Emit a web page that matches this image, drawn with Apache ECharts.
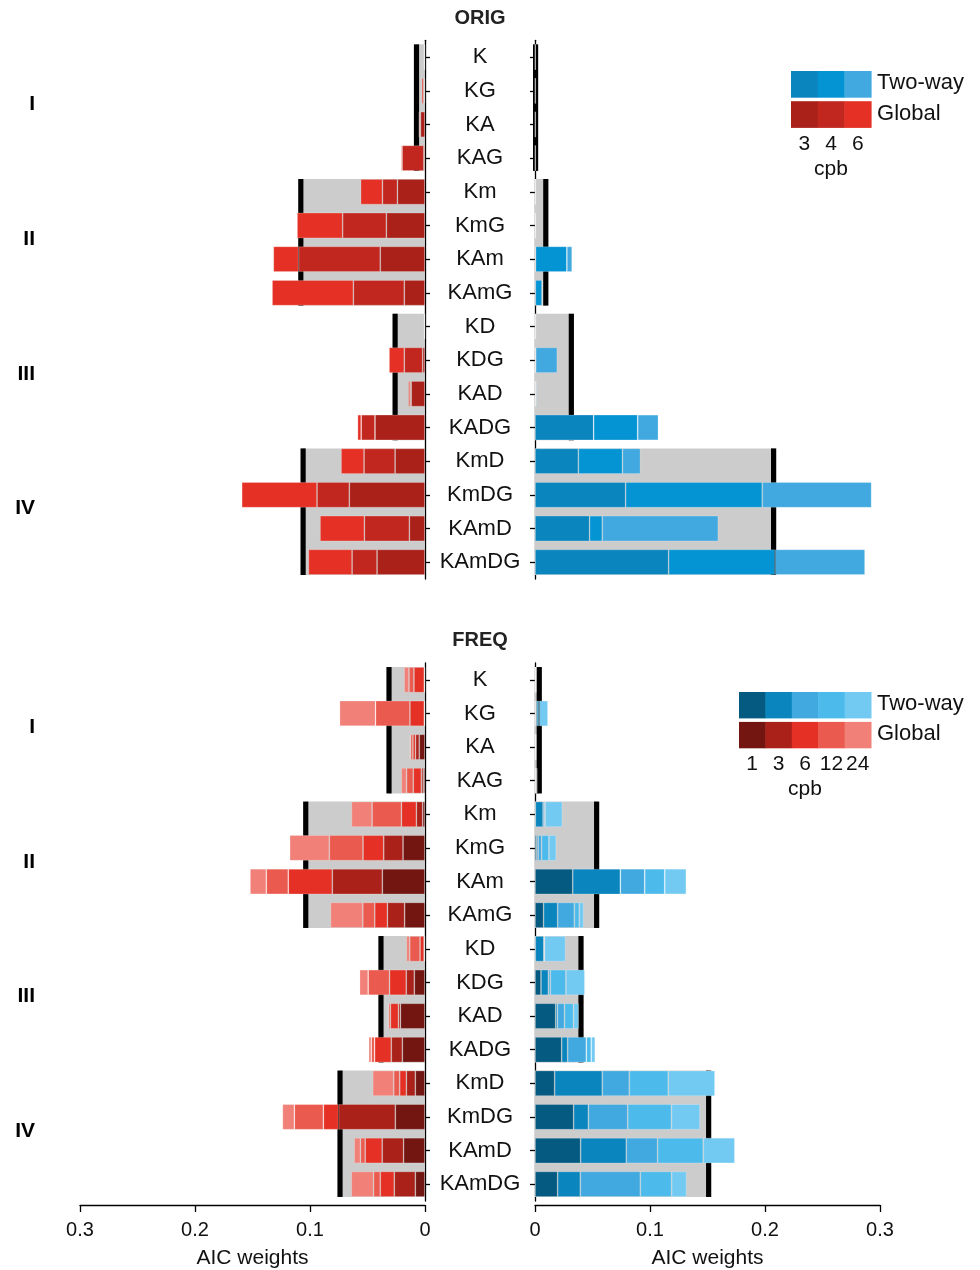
<!DOCTYPE html>
<html>
<head>
<meta charset="utf-8">
<script src="https://cdn.jsdelivr.net/npm/echarts@6/dist/echarts.min.js"></script>
<style>
  html, body { margin: 0; padding: 0; background: #fff; }
  #chart { width: 980px; height: 1270px; }
</style>
</head>
<body>
<div id="chart"></div>
<script>
// Model classes (rows) and their four groups
const categories = ['K', 'KG', 'KA', 'KAG', 'Km', 'KmG', 'KAm', 'KAmG',
                    'KD', 'KDG', 'KAD', 'KADG', 'KmD', 'KmDG', 'KAmD', 'KAmDG'];
const groupNames = ['I', 'II', 'III', 'IV'];
const groupFirst = [0, 4, 8, 12];
const groupLast = [3, 7, 11, 15];

// ORIG, Global models, AIC weight per cpb
const origGlobal3 = [0.0003, 0.0005, 0.004, 0.001, 0.024, 0.0336, 0.0389, 0.018, 0.0003, 0.002, 0.012, 0.0435, 0.026, 0.0658, 0.0136, 0.0417];
const origGlobal4 = [0.0003, 0.001, 0.001, 0.019, 0.013, 0.038, 0.071, 0.0443, 0.0002, 0.016, 0.001, 0.012, 0.027, 0.0281, 0.0391, 0.0217];
const origGlobal6 = [0.0004, 0.0015, 0.0002, 0.001, 0.019, 0.0397, 0.022, 0.0707, 0.0003, 0.0133, 0.0015, 0.0032, 0.020, 0.0655, 0.0386, 0.038];
const origGlobalGroup = [0.0074, 0.108, 0.026, 0.106];

// ORIG, Two-way models
const origTwo3 = [0.0002, 0.0002, 0.0002, 0.0002, 0.0003, 0.0003, 0.0005, 0.0003, 0.0002, 0.0003, 0.0003, 0.051, 0.0377, 0.0788, 0.0475, 0.1162];
const origTwo4 = [0.0002, 0.0002, 0.0002, 0.0002, 0.0002, 0.0002, 0.0272, 0.0058, 0.0002, 0.0003, 0.0003, 0.0383, 0.0383, 0.1188, 0.011, 0.0925];
const origTwo6 = [0.0001, 0.0002, 0.0002, 0.0002, 0.0002, 0.0002, 0.0046, 0.0006, 0.0005, 0.0188, 0.0008, 0.018, 0.0157, 0.0951, 0.1009, 0.0783];
const origTwoGroup = [0.0005, 0.0094, 0.0316, 0.2075];

// FREQ, Global models
const freqGlobal1 = [0.0003, 0.0003, 0.005, 0.0015, 0.002, 0.0191, 0.0371, 0.0177, 0.0004, 0.0093, 0.0214, 0.0197, 0.0084, 0.0258, 0.0186, 0.0084];
const freqGlobal3 = [0.0003, 0.0003, 0.0032, 0.0017, 0.0055, 0.0168, 0.0435, 0.015, 0.0004, 0.007, 0.0017, 0.0096, 0.0078, 0.0493, 0.0186, 0.0183];
const freqGlobal6 = [0.009, 0.0125, 0.0023, 0.007, 0.013, 0.018, 0.0383, 0.011, 0.0035, 0.0145, 0.007, 0.0145, 0.0058, 0.0133, 0.0148, 0.0122];
const freqGlobal12 = [0.0043, 0.0299, 0.002, 0.0058, 0.0255, 0.0293, 0.0191, 0.0104, 0.009, 0.0186, 0.0015, 0.0029, 0.0052, 0.0252, 0.0041, 0.0058];
const freqGlobal24 = [0.0043, 0.0313, 0.0009, 0.0046, 0.018, 0.0345, 0.0142, 0.0281, 0.0029, 0.0075, 0.0009, 0.0023, 0.0183, 0.0104, 0.0055, 0.0194];
const freqGlobalGroup = [0.0313, 0.1037, 0.0383, 0.0739];

// FREQ, Two-way models
const freqTwo1 = [0.0002, 0.0002, 0.0002, 0.0002, 0.0003, 0.0015, 0.0328, 0.0075, 0.0002, 0.0052, 0.018, 0.0232, 0.0171, 0.0336, 0.0397, 0.0197];
const freqTwo3 = [0.0002, 0.0003, 0.0002, 0.0003, 0.0067, 0.0012, 0.0414, 0.0122, 0.0075, 0.0064, 0.0015, 0.0052, 0.0414, 0.0128, 0.0397, 0.0197];
const freqTwo6 = [0.0002, 0.001, 0.0002, 0.0005, 0.0015, 0.003, 0.0212, 0.0145, 0.0003, 0.0017, 0.0061, 0.0162, 0.0235, 0.0342, 0.0272, 0.0522];
const freqTwo12 = [0.0002, 0.002, 0.0001, 0.0007, 0.0003, 0.0064, 0.0174, 0.0043, 0.0003, 0.0136, 0.0078, 0.0043, 0.0339, 0.038, 0.0397, 0.0272];
const freqTwo24 = [0.0002, 0.0078, 0.0001, 0.0003, 0.015, 0.0064, 0.0188, 0.0038, 0.0183, 0.0165, 0.0046, 0.0035, 0.0406, 0.0249, 0.0275, 0.013];
const freqTwoGroup = [0.0037, 0.0536, 0.04, 0.151];

// x-axis ticks
const xTicks = [0, 0.1, 0.2, 0.3];
const origCpb = ['3', '4', '6'];
const freqCpb = ['1', '3', '6', '12', '24'];

// palettes
const origRed = ['#AA2119', '#C1271F', '#E53125'];
const origBlue = ['#0A85BE', '#0594D3', '#41A9DF'];
const freqRed = ['#731612', '#AA2119', '#E53125', '#EA5A4F', '#F08078'];
const freqBlue = ['#045A80', '#0A85BE', '#41A9DF', '#4CBBEB', '#72CAF3'];

const FONT = 'Liberation Sans, Arial, Helvetica, sans-serif';
const NARROW = 'Liberation Sans Narrow, Liberation Sans, Arial, sans-serif';

const chart = echarts.init(document.getElementById('chart'), null, { renderer: 'canvas' });

const rowH = 33.67;
const plotH = rowH * 16;
const panelTop = [40.3, 663];

const grids = [
  { left: 80, width: 345, top: panelTop[0], height: plotH },
  { left: 535, width: 345, top: panelTop[0], height: plotH },
  { left: 80, width: 345, top: panelTop[1], height: plotH },
  { left: 535, width: 345, top: panelTop[1], height: plotH }
];

function xAxisFor(gridIndex, leftSide, visible) {
  return {
    type: 'value', gridIndex: gridIndex, min: xTicks[0], max: xTicks[xTicks.length - 1], interval: 0.1,
    inverse: leftSide, show: visible, offset: 4,
    axisLine: { show: true, onZero: false, lineStyle: { color: '#000', width: 1.3 } },
    axisTick: { show: true, length: 7, lineStyle: { color: '#000', width: 1.3 } },
    splitLine: { show: false },
    axisLabel: {
      margin: 15, fontSize: 20, color: '#111', fontFamily: NARROW,
      formatter: function (v) { return v === 0 ? '0' : v.toFixed(1); }
    },
    name: 'AIC weights', nameLocation: 'middle', nameGap: 43,
    nameTextStyle: { fontSize: 21, color: '#111', fontFamily: NARROW }
  };
}

function yAxisFor(gridIndex, leftSide) {
  return {
    type: 'category', gridIndex: gridIndex, data: categories, inverse: true,
    position: leftSide ? 'right' : 'left',
    axisLine: { show: true, onZero: false, lineStyle: { color: '#000', width: 1.3 } },
    axisTick: { show: true, alignWithLabel: true, length: 5, lineStyle: { color: '#000', width: 1.3 } },
    splitLine: { show: false },
    axisLabel: leftSide
      ? { show: true, align: 'center', margin: 55, fontSize: 22, color: '#111', fontFamily: FONT }
      : { show: false }
  };
}

// gray group band from 0 to the group weight, with a black marker at its end
function groupRenderer(withNumeral) {
  return function (params, api) {
    const total = api.value(0);
    const first = api.value(1);
    const last = api.value(2);
    const a = api.coord([0, first]);
    const b = api.coord([total, last]);
    const band = api.size([0, 1])[1];
    const h = band * 0.76;
    const top = a[1] - h / 2;
    const bottom = b[1] + h / 2;
    const x0 = Math.min(a[0], b[0]);
    const x1 = Math.max(a[0], b[0]);
    const children = [
      { type: 'rect', shape: { x: x0, y: top, width: x1 - x0, height: bottom - top }, style: { fill: '#cccccc' } },
      { type: 'rect', shape: { x: b[0] - 2.6, y: top, width: 5.2, height: bottom - top }, style: { fill: '#000000' } }
    ];
    if (withNumeral) {
      children.push({
        type: 'text', x: 35, y: (top + bottom) / 2 - 3,
        style: {
          text: groupNames[params.dataIndex], textAlign: 'right', textVerticalAlign: 'middle',
          fontSize: 21, fontWeight: 'bold', fontFamily: FONT, fill: '#000'
        }
      });
    }
    return { type: 'group', children: children };
  };
}

function groupSeries(axisIndex, totals, withNumeral) {
  return {
    type: 'custom', xAxisIndex: axisIndex, yAxisIndex: axisIndex, z: 1, clip: false,
    silent: true, renderItem: groupRenderer(withNumeral),
    encode: { x: 0, y: 1 },
    data: totals.map(function (t, i) { return [t, groupFirst[i], groupLast[i]]; })
  };
}

function barSeries(axisIndex, stackName, valueLists, colors, names) {
  return valueLists.map(function (vals, i) {
    return {
      type: 'bar', name: names[i], xAxisIndex: axisIndex, yAxisIndex: axisIndex,
      stack: stackName, barWidth: '76%', z: 3, silent: true,
      itemStyle: { color: colors[i], borderColor: 'rgba(255,255,255,0.28)', borderWidth: 0.8 },
      data: vals
    };
  });
}

const series = [].concat(
  groupSeries(0, origGlobalGroup, true),
  groupSeries(1, origTwoGroup, false),
  groupSeries(2, freqGlobalGroup, true),
  groupSeries(3, freqTwoGroup, false),
  barSeries(0, 'origGlobal', [origGlobal3, origGlobal4, origGlobal6], origRed, origCpb),
  barSeries(1, 'origTwo', [origTwo3, origTwo4, origTwo6], origBlue, origCpb),
  barSeries(2, 'freqGlobal', [freqGlobal1, freqGlobal3, freqGlobal6, freqGlobal12, freqGlobal24], freqRed, freqCpb),
  barSeries(3, 'freqTwo', [freqTwo1, freqTwo3, freqTwo6, freqTwo12, freqTwo24], freqBlue, freqCpb)
);

// colour-key block: one row of cells per model family, cpb values underneath
function keyBlock(x, y, cell, blues, reds, labels) {
  const els = [];
  blues.forEach(function (c, i) {
    els.push({ type: 'rect', left: x + i * cell, top: y, shape: { width: cell + 0.5, height: cell }, style: { fill: c } });
  });
  reds.forEach(function (c, i) {
    els.push({ type: 'rect', left: x + i * cell, top: y + cell + 3.5, shape: { width: cell + 0.5, height: cell }, style: { fill: c } });
  });
  const tx = x + blues.length * cell + 6;
  els.push({ type: 'text', left: tx, top: y + cell / 2 - 12, style: { text: 'Two-way', fontSize: 22, fontFamily: FONT, fill: '#111' } });
  els.push({ type: 'text', left: tx, top: y + cell * 1.5 + 3.5 - 12, style: { text: 'Global', fontSize: 22, fontFamily: FONT, fill: '#111' } });
  labels.forEach(function (t, i) {
    els.push({
      type: 'text', x: x + (i + 0.5) * cell, y: y + 2 * cell + 3.5 + 16,
      style: { text: t, fontSize: 21, fontFamily: FONT, fill: '#111', textAlign: 'center', textVerticalAlign: 'middle' }
    });
  });
  els.push({
    type: 'text', x: x + labels.length * cell / 2, y: y + 2 * cell + 3.5 + 41,
    style: { text: 'cpb', fontSize: 21, fontFamily: FONT, fill: '#111', textAlign: 'center', textVerticalAlign: 'middle' }
  });
  return els;
}

const option = {
  animation: false,
  backgroundColor: '#ffffff',
  title: [
    { text: 'ORIG', left: 480, top: 8, textAlign: 'center', padding: 0,
      textStyle: { fontSize: 20, fontWeight: 'bold', color: '#222', fontFamily: FONT } },
    { text: 'FREQ', left: 480, top: 630, textAlign: 'center', padding: 0,
      textStyle: { fontSize: 20, fontWeight: 'bold', color: '#222', fontFamily: FONT } }
  ],
  grid: grids,
  xAxis: [xAxisFor(0, true, false), xAxisFor(1, false, false), xAxisFor(2, true, true), xAxisFor(3, false, true)],
  yAxis: [yAxisFor(0, true), yAxisFor(1, false), yAxisFor(2, true), yAxisFor(3, false)],
  series: series,
  graphic: [].concat(
    keyBlock(791, 71, 26.7, origBlue, origRed, origCpb),
    keyBlock(739, 692, 26.4, freqBlue, freqRed, freqCpb)
  )
};

chart.setOption(option);
</script>
</body>
</html>
